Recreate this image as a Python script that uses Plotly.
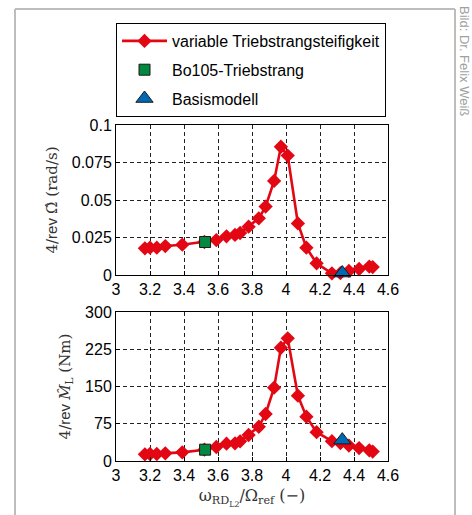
import plotly.graph_objects as go

# --- data ---
x_var = [3.17, 3.20, 3.24, 3.29, 3.39, 3.52, 3.59, 3.65, 3.70, 3.73, 3.78, 3.84, 3.88,
         3.93, 3.97, 4.01, 4.07, 4.12, 4.18, 4.27, 4.32, 4.37, 4.43, 4.49, 4.51]
omega_var = [0.0178, 0.0182, 0.0182, 0.0193, 0.0202, 0.0220, 0.0233, 0.0258, 0.0267, 0.0280,
             0.0322, 0.0378, 0.0456, 0.0627, 0.0855, 0.0796, 0.0344, 0.0182, 0.0078, 0.0011,
             0.0012, 0.0027, 0.0040, 0.0056, 0.0053]
moment_var = [13.4, 14.1, 14.1, 15.4, 17.4, 22.8, 28.2, 34.9, 35.6, 39.6, 52.3, 69.0, 94.6,
              147.7, 228.0, 247.0, 131.5, 89.3, 58.0, 40.0, 36.0, 31.0, 26.0, 21.5, 19.0]
x_bo105 = [3.524]
omega_bo105 = [0.022]
moment_bo105 = [22.8]
x_basis = [4.331]
omega_basis = [0.0013]
moment_basis = [42.0]

x_ticks = [3, 3.2, 3.4, 3.6, 3.8, 4, 4.2, 4.4, 4.6]
x_ticklabels = ["3", "3.2", "3.4", "3.6", "3.8", "4", "4.2", "4.4", "4.6"]
y1_ticks = [0, 0.025, 0.05, 0.075, 0.1]
y1_ticklabels = ["0", "0.025", "0.05", "0.075", "0.1"]
y2_ticks = [0, 75, 150, 225, 300]
y2_ticklabels = ["0", "75", "150", "225", "300"]

RED = "#e30613"
GREEN = "#00893f"
BLUE = "#0069b4"
SANS = "Liberation Sans, Arial, sans-serif"
SERIF = "DejaVu Serif, Liberation Serif, serif"

W, H = 472, 515
L, R, T, B = 116, 388, 125, 461
PH = B - T

fig = go.Figure()

line_style = dict(color=RED, width=2.6)
dia = dict(symbol="diamond", size=11, color=RED, line=dict(width=0))

fig.add_trace(go.Scatter(x=x_var, y=omega_var, mode="lines+markers", line=line_style, marker=dia,
                         name="variable Triebstrangsteifigkeit", legendgroup="a",
                         cliponaxis=False, xaxis="x", yaxis="y"))
fig.add_trace(go.Scatter(x=x_bo105, y=omega_bo105, mode="markers",
                         marker=dict(symbol="square", size=11, color=GREEN, line=dict(color="#1a1a1a", width=1)),
                         name="Bo105-Triebstrang", legendgroup="b", cliponaxis=False, xaxis="x", yaxis="y"))
fig.add_trace(go.Scatter(x=x_basis, y=omega_basis, mode="markers",
                         marker=dict(symbol="triangle-up", size=15, color=BLUE, line=dict(color="#1a1a1a", width=1)),
                         name="Basismodell", legendgroup="c", cliponaxis=False, xaxis="x", yaxis="y"))

fig.add_trace(go.Scatter(x=x_var, y=moment_var, mode="lines+markers", line=line_style, marker=dia,
                         showlegend=False, cliponaxis=False, xaxis="x2", yaxis="y2"))
fig.add_trace(go.Scatter(x=x_bo105, y=moment_bo105, mode="markers",
                         marker=dict(symbol="square", size=11, color=GREEN, line=dict(color="#1a1a1a", width=1)),
                         showlegend=False, cliponaxis=False, xaxis="x2", yaxis="y2"))
fig.add_trace(go.Scatter(x=x_basis, y=moment_basis, mode="markers",
                         marker=dict(symbol="triangle-up", size=15, color=BLUE, line=dict(color="#1a1a1a", width=1)),
                         showlegend=False, cliponaxis=False, xaxis="x2", yaxis="y2"))

axis_common = dict(showline=True, linecolor="black", linewidth=1, mirror=True,
                   ticks="inside", ticklen=4, tickcolor="black",
                   showgrid=True, gridcolor="#222222", gridwidth=1, griddash="4px,3px",
                   zeroline=False, tickfont=dict(family=SANS, size=16, color="black"))

top_dom = [(B - 275) / PH, 1.0]
bot_dom = [0.0, (B - 312) / PH]

fig.update_layout(
    width=W, height=H,
    margin=dict(l=L, r=W - R, t=T, b=H - B, pad=0),
    paper_bgcolor="white", plot_bgcolor="white",
    xaxis=dict(axis_common, domain=[0, 1], range=[3, 4.6], tickvals=x_ticks, ticktext=x_ticklabels,
               anchor="y"),
    yaxis=dict(axis_common, domain=top_dom, range=[0, 0.1], tickvals=y1_ticks, ticktext=y1_ticklabels,
               anchor="x",
               title=dict(text='<span style="font-family:DejaVu Serif">4/</span>rev '
                               '<span style="font-family:DejaVu Serif">Ω\u0302 (rad/s)</span>',
                          font=dict(family=SANS, size=15, color="#333"), standoff=10)),
    xaxis2=dict(axis_common, domain=[0, 1], range=[3, 4.6], tickvals=x_ticks, ticktext=x_ticklabels,
                anchor="y2",
                title=dict(text="ω<sub>RD<sub>L2</sub></sub>/Ω<sub>ref</sub> (−)",
                           font=dict(family=SERIF, size=16, color="#333"), standoff=6)),
    yaxis2=dict(axis_common, domain=bot_dom, range=[0, 300], tickvals=y2_ticks, ticktext=y2_ticklabels,
                anchor="x2",
                title=dict(text='<span style="font-family:DejaVu Serif">4/</span>rev '
                                '<span style="font-family:DejaVu Serif"><i>M\u0302</i><sub>L</sub> (Nm)</span>',
                           font=dict(family=SANS, size=15, color="#333"), standoff=10)),
    legend=dict(x=0, y=(B - 23) / PH, xanchor="left", yanchor="top",
                bgcolor="white", bordercolor="black", borderwidth=1,
                font=dict(family=SANS, size=16, color="black"),
                itemwidth=45, tracegroupgap=5),
    showlegend=True,
)

# light gray outer frame (left, top, right)
frame = dict(type="line", xref="paper", yref="paper", line=dict(color="#bdbdbd", width=2), layer="below")
xl = (15 - L) / (R - L)
xr = (455 - L) / (R - L)
yt = (B - 9) / PH
yb = (B - 520) / PH
fig.add_shape(frame, x0=xl, x1=xl, y0=yb, y1=yt)
fig.add_shape(frame, x0=xl, x1=xr, y0=yt, y1=yt)
fig.add_shape(frame, x0=xr, x1=xr, y0=yb, y1=yt)

fig.add_annotation(text="Bild: Dr. Felix Weiß", xref="paper", yref="paper",
                   x=(464 - L) / (R - L), y=(B - 4) / PH, xanchor="center", yanchor="top",
                   textangle=90, showarrow=False,
                   font=dict(family=SANS, size=13, color="#a0a0a0"))

fig.write_html("out.html")
